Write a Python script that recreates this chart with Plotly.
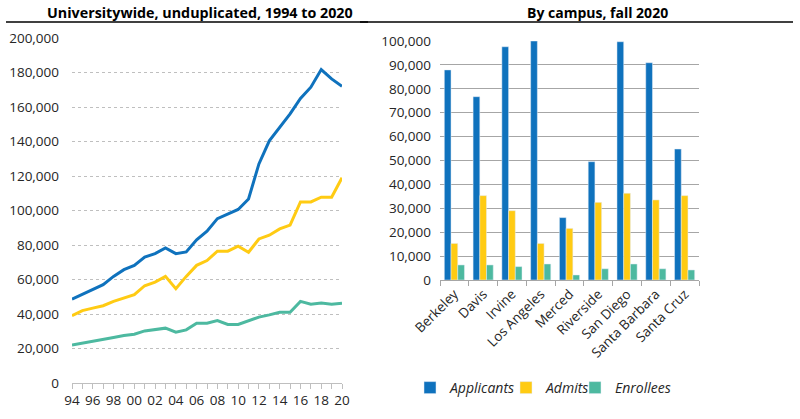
import plotly.graph_objects as go

# ---- left panel: universitywide, 1994 to 2020
years = list(range(1994, 2021))
year_labels = [str(y)[2:] if y % 2 == 0 else "" for y in years]

applicants_trend = [48600, 51500, 54000, 57000, 61800, 65700, 68200, 73000, 75000, 78300,
                    75000, 76000, 83000, 88000, 95300, 98000, 100600, 106700, 127000, 140400,
                    148000, 156000, 165000, 171500, 181700, 176300, 172000]
admits_trend = [39000, 42000, 43400, 44800, 47300, 49200, 51200, 56400, 58500, 61800,
                54700, 61800, 68200, 71000, 76400, 76400, 79300, 75800, 83500, 85700,
                89300, 91500, 105000, 105000, 107700, 107700, 119000]
enrollees_trend = [22000, 23000, 24000, 25000, 26400, 27500, 28300, 30200, 30800, 31800,
                   29500, 30800, 34700, 34700, 36200, 33900, 33900, 36200, 38200, 39500,
                   41000, 41000, 47300, 45700, 46300, 45700, 46300]

# ---- right panel: by campus, fall 2020
campuses = ["Berkeley", "Davis", "Irvine", "Los Angeles", "Merced",
            "Riverside", "San Diego", "Santa Barbara", "Santa Cruz"]
applicants = [87900, 76700, 97600, 100000, 26100, 49500, 99700, 90900, 54800]
admits = [15300, 35300, 29000, 15300, 21600, 32500, 36300, 33500, 35300]
enrollees = [6300, 6300, 5600, 6700, 2100, 4700, 6700, 4700, 4200]

BLUE = "#0F72BD"
YELLOW = "#FFCB13"
GREEN = "#4DB9A0"
FONT = "Open Sans"

W, H = 800, 419


def px_x(x):
    return x / W


def px_y(y):
    return 1 - y / H


fig = go.Figure()

for name, vals, color in [("Applicants", applicants_trend, BLUE),
                          ("Admits", admits_trend, YELLOW),
                          ("Enrollees", enrollees_trend, GREEN)]:
    fig.add_trace(go.Scatter(x=years, y=vals, mode="lines", name=name,
                             line=dict(color=color, width=3),
                             xaxis="x", yaxis="y", showlegend=False))

for name, vals, color, lw in [("Applicants", applicants, BLUE, 51),
                              ("Admits", admits, YELLOW, 24),
                              ("Enrollees", enrollees, GREEN, 60)]:
    fig.add_trace(go.Bar(x=campuses, y=vals, name=name, marker_color=color,
                         legendwidth=lw, xaxis="x2", yaxis="y2"))

tick_font = dict(family=FONT, size=13.5, color="#262626")

fig.update_layout(
    width=W, height=H,
    margin=dict(l=0, r=0, t=0, b=0, autoexpand=False),
    paper_bgcolor="white", plot_bgcolor="white",
    barmode="group", bargap=0.3, bargroupgap=0,
    xaxis=dict(domain=[px_x(72), px_x(342)], range=[1994, 2020], automargin=False,
               tickmode="array", tickvals=years, ticktext=year_labels,
               ticks="outside", ticklen=5, tickcolor="#BFBFBF",
               showline=True, linecolor="#BFBFBF", showgrid=False,
               tickfont=tick_font, tickangle=0),
    yaxis=dict(domain=[px_y(383), px_y(38)], range=[0, 200000], dtick=20000, automargin=False,
               tickformat=",", showgrid=True, gridcolor="#BFBFBF", griddash="dot",
               zeroline=False, tickfont=tick_font, ticklabelstandoff=12),
    xaxis2=dict(domain=[px_x(440), px_x(699)], anchor="y2", automargin=False,
                tickson="boundaries", ticks="outside", ticklen=5, tickcolor="#A6A6A6",
                showline=True, linecolor="#A6A6A6", showgrid=False,
                tickangle=-45, tickfont=tick_font),
    yaxis2=dict(domain=[px_y(280), px_y(41)], anchor="x2", range=[0, 100000], dtick=10000,
                automargin=False,
                tickformat=",", showgrid=True, gridcolor="#A6A6A6", gridwidth=1,
                zeroline=False, tickfont=tick_font, ticklabelstandoff=8),
    legend=dict(orientation="h", x=px_x(410), y=px_y(388), xanchor="left", yanchor="middle",
                font=dict(family=FONT, size=14, color="#262626", style="italic"),
                itemwidth=30, tracegroupgap=0),
    annotations=[
        dict(text="<b>Universitywide, unduplicated, 1994 to 2020</b>", x=px_x(200), y=px_y(12),
             xref="paper", yref="paper", xanchor="center", yanchor="middle", showarrow=False,
             font=dict(family=FONT, size=14.3, color="black")),
        dict(text="<b>By campus, fall 2020</b>", x=px_x(597), y=px_y(12),
             xref="paper", yref="paper", xanchor="center", yanchor="middle", showarrow=False,
             font=dict(family=FONT, size=14, color="black")),
    ],
    shapes=[
        dict(type="line", xref="paper", yref="paper", x0=px_x(6), x1=px_x(368),
             y0=px_y(22), y1=px_y(22), line=dict(color="black", width=1.5)),
        dict(type="line", xref="paper", yref="paper", x0=px_x(360), x1=px_x(793),
             y0=px_y(22), y1=px_y(22), line=dict(color="black", width=1.5)),
    ],
)

# drop the default 8px page margin so the figure sits flush with the window
fig.write_html("out.html", config={"displayModeBar": False},
               post_script="document.body.style.margin='0px';")
